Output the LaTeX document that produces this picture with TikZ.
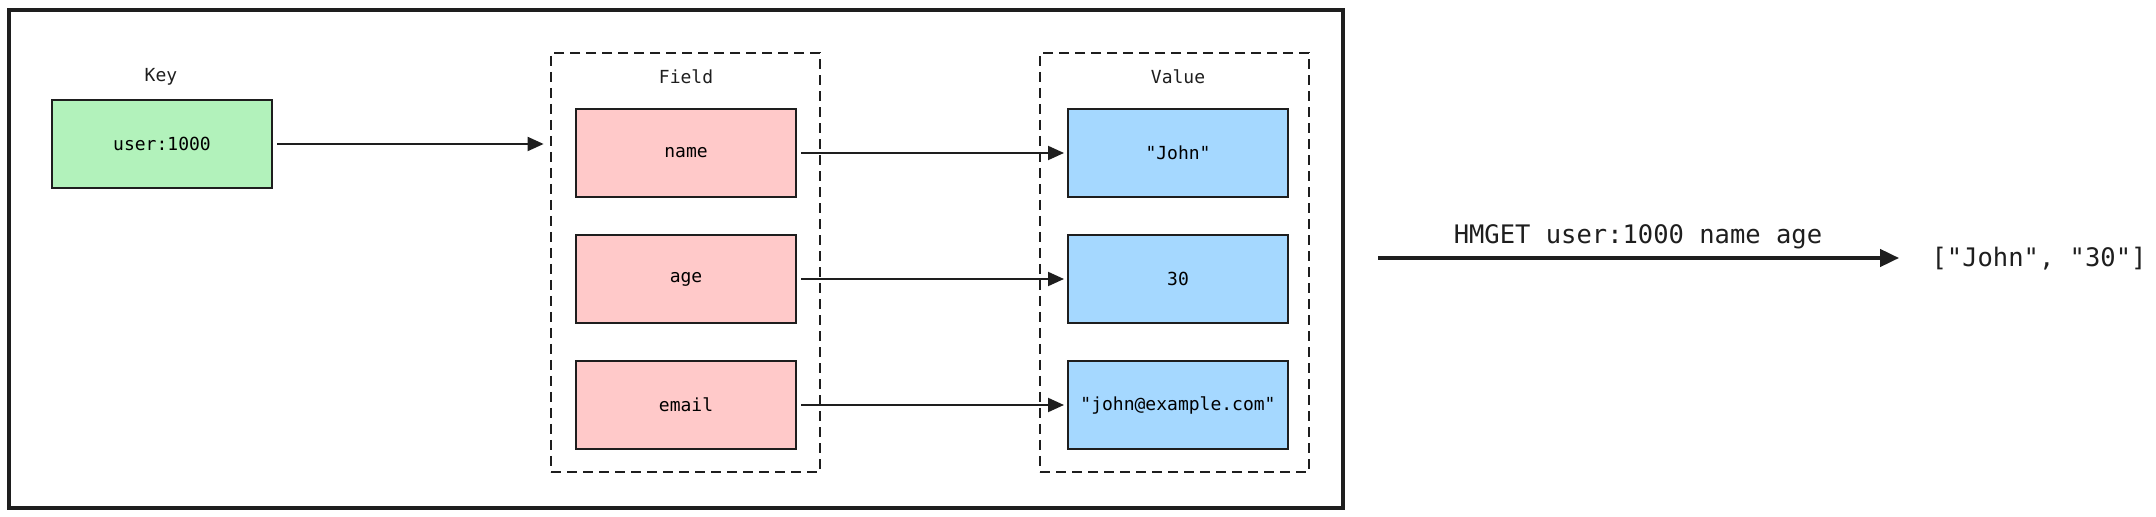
\documentclass[tikz,border=0pt]{standalone}
\usepackage{fontspec}
\setmonofont{DejaVu Sans Mono}
\usetikzlibrary{arrows.meta,positioning}
\definecolor{keygreen}{HTML}{B2F2BB}
\definecolor{fieldpink}{HTML}{FFC9C9}
\definecolor{valueblue}{HTML}{A5D8FF}
\definecolor{ink}{HTML}{1E1E1E}
\begin{document}
\begin{tikzpicture}[x=0.5pt,y=-0.5pt,
  cell/.style={draw=ink,line width=1pt,minimum width=110pt,minimum height=44pt,font=\ttfamily\fontsize{9}{11}\selectfont},
  group/.style={draw=ink,line width=1.4pt,dash pattern=on 5pt off 3pt,minimum width=134.5pt,minimum height=209.5pt},
  tag/.style={font=\ttfamily\fontsize{9}{11}\selectfont,text=ink},
  big/.style={font=\ttfamily\fontsize{12.75}{15}\selectfont,text=ink},
  link/.style={draw=ink,line width=1pt,-{Triangle[length=8pt,width=7pt]},shorten <=2pt,shorten >=1.5pt}]
\useasboundingbox (0,0) rectangle (2156,517);
\draw[ink,line width=1.75pt] (9,10) rectangle (1343,508);
\node[group] (fields) at (685.5,262.5) {};
\node[group] (values) at (1174.5,262.5) {};
\node[tag] (keytag) at (161,77) {Key};
\node[tag] (fieldtag) at (686,77) {Field};
\node[tag] (valuetag) at (1178,77) {Value};
\node[cell,fill=keygreen] (key) at (162,144) {user:1000};
\node[cell,fill=fieldpink] (name) at (686,153) {name};
\node[cell,fill=fieldpink] (age) at (686,279) {age};
\node[cell,fill=fieldpink] (email) at (686,405) {email};
\node[cell,fill=valueblue] (john) at (1178,153) {"John"};
\node[cell,fill=valueblue] (thirty) at (1178,279) {30};
\node[cell,fill=valueblue] (mail) at (1178,405) {"john@example.com"};

\draw[link,shorten >=3pt] (key.east) -- (key.east -| fields.west);
\draw[link] (name) -- (john);
\draw[link] (age) -- (thirty);
\draw[link] (email) -- (mail);

\coordinate (cmd) at (1378,258);
\node[big,inner sep=0pt] (result) at (2039,259) {["John", "30"]};
\draw[draw=ink,line width=2pt,-{Triangle[length=9.5pt,width=8.5pt]},shorten >=16pt] (cmd) -- (cmd -| result.west) node[big,pos=0.47,above=0pt] (hmget) {HMGET user:1000 name age};
\end{tikzpicture}
\end{document}
